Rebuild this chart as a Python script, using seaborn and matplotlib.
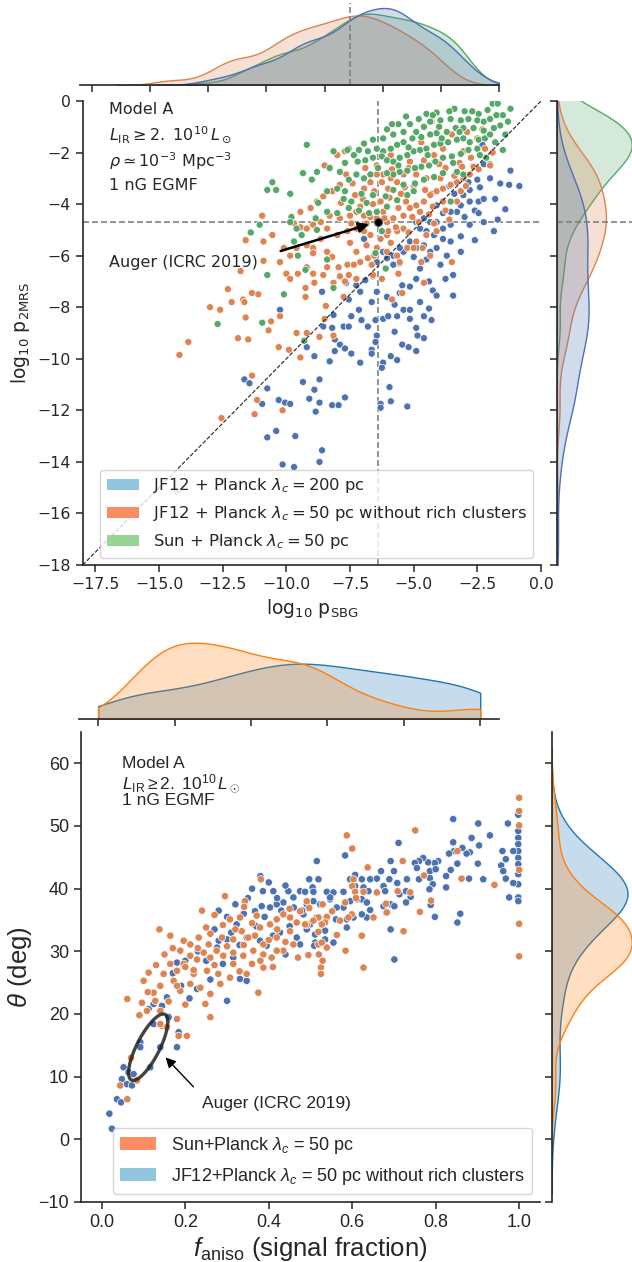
import numpy as np
import pandas as pd
import matplotlib
matplotlib.use("Agg")
import matplotlib.pyplot as plt
from matplotlib.patches import Patch
from matplotlib.font_manager import FontProperties
import seaborn as sns

# ---------------- DATA ----------------
# Top panel: log10 p_SBG (x) vs log10 p_2MRS (y)
top_jf12_200 = [
    (-2.3,-1.7),(-2.25,-2.45),(-2.0,-2.45),(-1.25,-3.25),(-2.85,-3.15),(-2.5,-3.05),(-2.4,-3.35),(-2.8,-3.45),
    (-3.05,-3.65),(-3.15,-4.05),(-2.8,-3.9),(-2.45,-3.9),(-2.25,-3.8),(-1.8,-3.8),(-2.6,-4.25),(-2.45,-4.35),
    (-3.3,-4.3),(-3.55,-4.3),(-3.85,-4.35),(-4.1,-4.05),(-3.55,-4.8),(-3.85,-4.95),(-4.1,-4.7),(-4.35,-4.7),
    (-4.6,-4.55),(-4.9,-4.7),(-4.75,-4.95),(-4.5,-5.05),(-4.2,-5.2),(-3.85,-5.35),(-3.55,-5.45),(-3.15,-5.25),
    (-2.8,-4.8),(-2.25,-4.7),(-1.85,-5.05),(-2.6,-5.4),(-3.15,-5.85),(-3.7,-6.0),(-4.1,-5.7),(-4.35,-5.85),
    (-4.6,-5.6),(-4.9,-5.7),(-5.15,-5.45),(-5.4,-5.85),(-5.55,-5.7),(-5.8,-6.0),(-6.05,-6.1),(-6.2,-5.85),
    (-6.45,-6.25),(-6.95,-5.35),(-3.95,-6.35),(-4.5,-6.15),(-4.75,-6.5),
    (-5.0,-6.05),(-5.55,-6.3),(-5.8,-6.35),(-6.6,-6.8),(-6.9,-6.95),
    (-7.25,-7.15),(-7.65,-7.05),(-7.1,-7.4),(-6.65,-7.8),(-6.45,-7.4),(-6.05,-7.6),(-5.75,-7.9),(-5.55,-7.45),
    (-5.45,-7.15),(-5.15,-7.2),(-4.9,-6.9),(-4.4,-7.0),(-4.25,-7.35),(-4.1,-7.55),(-4.75,-7.8),(-4.4,-8.05),
    (-3.45,-6.75),(-3.45,-7.55),(-3.75,-6.9),(-8.6,-7.4),(-7.55,-7.7),(-7.15,-8.1),(-7.45,-8.35),(-7.05,-8.5),
    (-6.5,-8.5),(-6.2,-8.45),(-6.0,-8.35),(-5.65,-8.35),(-5.4,-8.1),(-5.15,-8.1),(-5.15,-8.45),(-4.6,-8.35),
    (-4.3,-8.5),(-8.15,-8.3),(-8.55,-8.75),(-8.2,-8.8),(-7.75,-8.75),(-7.55,-8.75),(-6.8,-8.75),(-6.45,-9.1),
    (-6.5,-9.35),(-5.75,-8.95),(-4.9,-8.8),(-4.85,-9.1),(-4.6,-9.2),(-8.1,-9.25),(-7.9,-9.45),(-7.7,-9.6),
    (-8.1,-9.7),(-7.45,-9.8),(-7.1,-10.15),(-6.65,-9.65),(-6.65,-9.8),(-6.2,-10.15),(-6.25,-10.35),(-5.9,-9.9),
    (-5.65,-10.05),(-5.45,-9.45),(-5.2,-9.55),(-4.9,-9.7),(-8.9,-9.9),(-9.2,-9.55),(-10.25,-8.1),(-8.3,-10.1),
    (-11.65,-10.8),(-11.45,-10.95),(-10.75,-11.15),(-10.95,-11.75),(-10.3,-11.6),(-10.05,-11.7),(-9.85,-11.75),
    (-9.35,-10.9),(-9.1,-11.55),(-8.9,-11.2),(-8.7,-10.8),(-8.7,-11.7),(-8.85,-12.05),(-8.2,-11.8),(-7.95,-11.8),
    (-7.7,-11.5),(-6.3,-11.75),(-6.3,-11.9),(-5.95,-11.1),(-5.9,-11.65),(-5.25,-11.85),(-10.75,-13.05),
    (-10.4,-12.8),(-9.65,-13.0),(-8.6,-13.55),(-10.15,-14.1),(-9.7,-14.2),(-8.7,-14.0),(-12.6,-17.05),
    (-12.1,-17.0),(-0.85,-3.3),(-1.2,-2.7),(-1.6,-3.2),(-1.4,-4.2),(-1.7,-4.6),(-2.0,-3.0),(-3.4,-3.6),
    (-3.0,-4.5),(-4.3,-3.6),(-3.6,-3.3),
]
top_jf12_50 = [
    (-4.3,-0.8),(-2.5,-1.45),(-2.2,-1.85),(-2.8,-2.85),(-3.05,-1.95),(-3.45,-2.4),(-3.85,-1.85),(-4.2,-2.1),
    (-4.9,-2.85),(-5.15,-2.35),(-5.4,-2.85),(-5.65,-3.15),(-5.9,-3.0),(-6.2,-2.85),(-6.45,-2.85),(-6.45,-2.5),
    (-6.7,-3.15),(-6.95,-3.4),(-7.3,-3.65),(-7.65,-2.85),(-7.7,-1.95),(-7.9,-3.25),(-8.2,-3.5),(-8.55,-3.7),
    (-8.8,-3.9),(-9.05,-4.15),(-9.45,-4.3),(-9.7,-4.75),(-9.45,-4.9),(-9.2,-4.95),(-8.95,-4.8),(-8.65,-4.7),
    (-8.3,-4.45),(-7.9,-4.55),(-7.5,-4.45),(-7.25,-4.3),(-6.95,-4.45),(-6.7,-4.5),(-6.45,-4.55),(-6.05,-4.7),
    (-5.8,-4.55),(-5.4,-4.45),(-5.15,-4.15),(-4.9,-4.05),(-4.6,-3.9),(-4.35,-3.65),(-4.1,-3.5),(-3.85,-3.4),
    (-3.55,-3.25),(-3.3,-3.15),(-3.05,-3.0),(-2.65,-2.55),(-3.15,-3.5),(-3.85,-3.9),(-5.4,-4.95),(-5.65,-5.05),
    (-6.05,-5.2),(-6.3,-5.35),(-6.7,-5.2),(-6.95,-5.05),(-7.25,-4.95),(-7.6,-5.05),(-8.0,-5.2),(-8.4,-4.95),
    (-8.65,-5.35),(-8.95,-5.7),(-9.2,-5.6),(-9.6,-5.7),(-9.85,-6.0),(-10.1,-5.7),(-10.25,-6.25),
    (-8.4,-5.85),(-7.25,-5.85),(-6.85,-5.6),(-6.45,-5.7),(-6.05,-5.85),(-5.65,-6.0),
    (-5.25,-5.7),(-4.9,-5.45),(-4.5,-5.2),(-4.1,-5.05),(-4.35,-6.0),(-5.55,-6.25),(-10.95,-4.45),
    (-11.6,-5.4),(-10.9,-5.45),(-8.95,-5.9),(-8.2,-6.05),(-9.2,-6.45),(-8.95,-6.7),(-10.0,-6.7),(-9.55,-6.7),
    (-9.85,-6.9),(-8.4,-6.45),(-7.95,-6.45),(-7.6,-6.35),(-7.35,-6.35),(-7.1,-6.25),(-6.65,-6.35),(-8.55,-6.75),
    (-8.9,-7.05),(-8.15,-7.05),(-7.9,-6.8),(-7.7,-7.0),(-7.55,-6.75),(-7.25,-6.9),(-9.25,-7.25),(-9.25,-7.6),
    (-11.35,-7.45),(-11.1,-7.5),(-11.7,-7.7),(-11.65,-7.8),(-12.15,-7.8),(-12.6,-8.1),(-11.6,-8.4),(-10.6,-8.55),
    (-10.7,-8.9),(-10.25,-8.35),(-8.45,-7.95),(-8.5,-8.45),(-9.6,-9.0),(-9.2,-9.0),(-8.7,-9.15),(-8.15,-9.1),
    (-11.9,-9.2),(-11.5,-9.25),(-13.85,-9.35),(-14.2,-9.85),(-10.3,-9.55),(-9.9,-9.65),(-9.45,-9.95),(-7.75,-7.6),
    (-5.85,-7.7),(-5.6,-6.7),(-5.45,-7.45),(-4.6,-7.05),(-4.7,-6.25),(-3.5,-6.25),(-11.35,-10.65),(-11.15,-11.6),
    (-11.25,-12.15),(-12.55,-12.3),(-10.15,-12.0),(-6.6,-6.75),(-6.25,-6.9),(-14.3,-15.15),
    (-3.5,-1.3),(-2.9,-1.2),(-2.3,-1.1),(-4.7,-1.6),(-5.9,-2.1),(-2.0,-2.5),(-1.9,-2.0),(-3.2,-2.4),(-4.5,-3.0),
    (-5.0,-3.3),(-5.5,-3.6),(-6.0,-3.4),(-6.3,-3.9),(-6.6,-4.0),(-7.0,-3.8),(-7.4,-3.2),(-8.0,-2.1),(-8.5,-2.5),
    (-6.2,-4.3),(-5.7,-4.9),(-4.8,-4.7),(-4.4,-4.4),(-3.6,-4.6),(-5.0,-5.7),(-6.8,-6.1),(-7.5,-5.5),
    (-10.55,-5.2),(-10.9,-6.2),(-11.8,-6.6),(-12.3,-7.3),(-13.0,-8.0),
    (-6.9,-2.6),(-6.55,-3.5),(-6.25,-3.15),(-5.95,-3.75),(-5.6,-4.15),(-5.3,-3.9),(-5.05,-4.5),(-4.75,-4.3),
    (-4.55,-3.45),(-4.25,-4.1),(-3.95,-3.0),(-3.75,-2.6),(-3.4,-2.9),(-3.1,-2.55),(-2.75,-2.2),(-2.45,-2.65),
    (-5.85,-2.65),(-5.35,-3.35),(-6.15,-4.55),(-6.85,-4.75),(-7.1,-4.1),(-7.45,-4.75),(-7.85,-3.95),(-6.55,-6.0),
    (-5.9,-5.5),(-5.2,-5.1),(-4.65,-5.7),(-4.2,-4.75),(-3.75,-4.25),(-3.3,-3.9),(-2.95,-3.3),(-4.0,-2.45),
    (-4.6,-2.3),(-5.2,-2.6),(-6.0,-5.05),
]
top_sun_50 = [
    (-1.9,-0.1),(-1.7,-0.1),(-1.2,-0.3),(-1.5,-0.55),(-2.1,-0.35),(-2.45,-0.5),(-3.0,-0.4),(-3.4,-0.3),(-4.1,-0.45),
    (-4.5,-0.5),(-5.3,-0.6),(-5.6,-0.9),(-6.05,-1.1),(-6.2,-1.45),(-5.8,-1.3),(-5.4,-1.2),(-5.15,-0.9),(-4.9,-1.2),
    (-4.6,-1.0),(-4.35,-0.8),(-3.95,-0.75),(-3.55,-0.7),(-3.15,-0.75),(-2.85,-0.7),(-2.5,-0.75),(-2.25,-0.8),
    (-2.0,-0.7),(-1.75,-0.55),(-1.6,-0.95),(-1.85,-1.05),(-2.25,-1.15),(-2.65,-1.05),(-3.05,-1.05),(-3.35,-1.05),
    (-3.7,-1.2),(-4.1,-1.25),(-4.35,-1.3),(-4.7,-1.4),(-5.05,-1.45),(-5.4,-1.6),(-5.65,-1.7),(-5.9,-1.85),
    (-6.2,-1.95),(-6.45,-1.85),(-6.8,-1.95),(-6.95,-1.65),(-7.15,-1.9),(-7.55,-1.85),(-7.7,-2.4),(-7.35,-2.1),
    (-7.2,-2.35),(-6.9,-2.3),(-6.6,-2.2),(-6.25,-2.15),(-6.05,-2.3),(-5.8,-2.35),(-5.55,-2.2),(-5.25,-2.1),
    (-5.0,-1.95),(-4.75,-1.9),(-4.5,-1.85),(-4.2,-1.7),(-3.95,-1.65),(-3.65,-1.6),(-3.3,-1.5),(-3.05,-1.45),
    (-2.8,-1.6),(-2.45,-1.5),(-2.2,-1.45),(-2.5,-1.85),(-2.85,-1.9),(-3.15,-2.05),(-3.5,-2.15),(-3.85,-2.2),
    (-4.15,-2.35),(-4.4,-2.5),(-4.7,-2.55),(-4.95,-2.6),(-5.25,-2.7),(-5.55,-2.75),(-5.8,-2.85),(-6.05,-2.8),
    (-6.4,-2.6),(-6.7,-2.85),(-6.95,-3.0),(-7.25,-2.85),(-7.55,-3.05),(-7.9,-2.75),(-8.3,-2.6),(-8.8,-2.75),
    (-9.0,-3.05),(-9.35,-2.8),(-9.2,-1.7),(-8.15,-1.95),(-7.6,-1.9),(-10.55,-3.15),(-10.75,-3.45),(-10.4,-3.45),
    (-9.85,-3.6),(-8.4,-3.5),(-8.0,-3.4),(-7.7,-3.5),(-7.45,-3.9),(-7.05,-3.6),(-6.6,-3.65),(-6.85,-3.95),
    (-7.15,-4.25),(-7.55,-4.15),(-7.75,-3.8),(-8.0,-4.35),(-8.4,-4.3),(-8.75,-3.95),(-6.1,-3.7),(-5.8,-3.45),
    (-5.4,-3.25),(-4.95,-3.2),(-4.6,-3.05),(-4.2,-2.95),(-3.85,-2.8),(-3.3,-2.75),(-3.05,-2.85),(-3.55,-3.9),
    (-6.05,-4.1),(-5.65,-3.85),(-5.25,-3.65),(-5.0,-3.5),(-6.45,-4.3),(-6.75,-4.35),(-8.85,-4.55),(-9.8,-4.5),
    (-9.6,-4.95),(-9.85,-4.7),(-11.05,-4.8),(-11.4,-5.1),(-9.4,-5.2),(-9.7,-5.45),(-8.8,-5.0),(-6.25,-5.05),
    (-6.5,-5.9),(-10.75,-6.75),(-9.55,-6.0),(-8.4,-6.15),(-9.25,-6.55),(-10.1,-7.5),(-8.15,-7.25),(-12.7,-8.65),
    (-10.95,-8.6),(-9.3,-9.3),(-6.1,-6.5),
    (-1.4,-1.3),(-1.3,-0.8),(-2.0,-1.3),(-2.4,-2.1),(-3.6,-0.4),(-4.0,-1.0),(-4.8,-0.7),(-5.2,-1.8),(-3.2,-1.2),
    (-2.7,-0.4),(-1.5,-1.9),(-3.9,-1.45),(-4.45,-2.1),(-5.6,-2.5),(-3.45,-2.4),(-2.15,-2.2),(-1.8,-1.6),
    (-4.25,-0.55),(-5.85,-0.9),(-6.6,-1.5),
]
top_labels = [r"JF12 + Planck $\lambda_c = 200$ pc",
              r"JF12 + Planck $\lambda_c = 50$ pc without rich clusters",
              r"Sun + Planck $\lambda_c = 50$ pc"]
auger_top = (-6.4, -4.7)

# Bottom panel: f_aniso (x) vs theta in deg (y)
bot_sun = [
    (0.381,41.5),(0.295,38.8),(0.343,38.0),(0.341,37.1),(0.138,33.5),(0.26,32.8),(0.307,35.1),(0.331,35.4),
    (0.371,35.7),(0.379,33.8),(0.403,34.3),(0.419,35.1),(0.435,35.9),(0.451,35.4),(0.467,34.6),(0.451,33.2),
    (0.419,32.2),(0.387,31.1),(0.363,30.1),(0.339,29.3),(0.315,29.8),(0.291,29.3),(0.275,30.1),(0.26,29.0),
    (0.244,29.8),(0.228,28.7),(0.212,29.3),(0.196,28.0),(0.18,26.9),(0.164,28.0),(0.148,26.4),(0.14,24.5),
    (0.124,23.4),(0.112,26.6),(0.1,25.3),(0.128,22.1),(0.096,21.8),(0.061,22.4),(0.108,20.5),(0.14,20.5),
    (0.18,19.2),(0.144,18.1),(0.184,16.5),(0.204,16.5),(0.172,25.3),(0.188,23.7),(0.212,24.8),(0.236,24.2),
    (0.26,23.2),(0.248,21.6),(0.284,24.8),(0.307,25.8),(0.26,19.5),(0.22,26.4),(0.252,26.9),(0.279,26.4),
    (0.315,28.0),(0.347,26.4),(0.375,23.4),(0.387,27.4),(0.407,29.0),(0.435,30.1),(0.459,31.1),(0.419,30.1),
    (0.387,29.5),(0.156,17.9),(0.14,18.4),(0.084,9.4),(0.044,8.6),(0.061,6.4),(0.164,32.5),(0.196,31.7),
    (0.232,32.2),(0.256,31.1),(0.288,32.2),(0.315,31.9),(0.335,33.2),(0.351,32.2),(0.367,32.5),(0.212,31.1),
    (0.188,30.1),
    (1.0,54.5),(1.0,52.4),(1.0,50.1),(1.0,43.0),(1.0,34.4),(1.0,29.2),(0.941,40.6),(0.862,41.6),(0.852,46.0),
    (0.751,49.3),(0.789,38.1),(0.772,42.1),(0.762,36.3),(0.721,44.4),(0.723,33.2),(0.709,39.6),(0.739,39.4),
    (0.681,37.6),(0.683,36.2),(0.659,39.4),(0.637,43.4),(0.627,39.5),(0.587,48.5),(0.6,46.4),(0.603,41.5),
    (0.6,40.4),(0.607,39.5),(0.609,38.5),(0.583,37.8),(0.651,35.4),(0.623,32.5),(0.627,27.4),(0.584,30.1),
    (0.599,35.9),(0.591,35.4),(0.563,32.6),(0.571,34.9),(0.552,36.4),(0.539,35.5),(0.535,34.6),(0.529,37.5),
    (0.519,35.4),(0.507,34.9),(0.491,34.2),(0.497,36.9),(0.491,38.0),(0.475,36.4),(0.487,34.3),(0.519,33.1),
    (0.527,34.3),(0.539,30.6),(0.519,31.1),(0.527,31.4),(0.495,29.4),(0.52,29.5),(0.529,28.5),(0.525,27.4),
    (0.525,26.4),
    (0.17,30.5),(0.2,27.5),(0.23,30.5),(0.27,27.8),(0.3,30.8),(0.32,33.5),(0.34,31.0),(0.36,34.5),(0.38,28.5),
    (0.4,31.8),(0.42,33.5),(0.44,31.5),(0.25,33.8),(0.29,34.2),(0.22,27.0),(0.15,29.5),(0.13,27.8),(0.18,24.5),
    (0.11,23.5),(0.09,19.8),(0.07,13.0),(0.47,29.0),(0.45,36.8),(0.24,36.5),(0.27,35.8),(0.33,26.8),(0.36,28.0),
    (0.41,27.5),(0.2,21.5),(0.16,22.0),
]
bot_jf12 = [
    (0.386,39.6),(0.411,39.6),(0.447,39.6),(0.475,39.6),(0.547,38.3),(0.459,38.6),(0.435,37.8),(0.419,37.5),
    (0.403,37.0),(0.383,37.2),(0.367,36.4),(0.323,34.3),(0.347,32.2),(0.379,31.7),(0.395,30.9),(0.427,33.0),
    (0.467,32.2),(0.28,31.7),(0.3,31.9),(0.276,30.6),(0.315,29.0),(0.331,25.6),(0.347,25.3),(0.2,28.5),
    (0.18,28.2),(0.3,22.1),(0.228,24.0),(0.156,22.65),(0.144,21.3),(0.124,21.6),(0.112,20.8),(0.124,18.4),
    (0.092,15.5),(0.092,14.7),(0.14,14.7),(0.18,14.7),(0.184,17.1),(0.052,11.5),(0.064,10.7),(0.076,10.4),
    (0.048,9.6),(0.06,8.8),(0.072,8.6),(0.116,11.5),(0.036,6.4),(0.046,5.9),(0.018,4.1),(0.024,1.7),
    (0.842,51.1),(0.902,50.4),(0.973,50.4),(0.998,51.8),(0.998,49.2),(0.998,48.1),(0.998,47.1),(0.998,46.0),
    (0.998,44.9),(0.998,43.9),(0.998,42.3),(0.998,40.7),(0.998,38.6),(0.998,38.0),(0.986,46.0),(0.96,46.0),
    (0.968,44.7),(0.957,43.7),(0.962,42.8),(0.968,41.6),(0.986,40.9),(0.976,38.6),(0.93,48.5),(0.904,46.9),
    (0.886,48.1),(0.882,45.8),(0.874,45.6),(0.864,46.5),(0.842,47.4),(0.844,46.0),(0.832,45.6),(0.852,44.0),
    (0.901,44.0),(0.836,43.0),(0.825,42.0),(0.88,41.6),(0.914,41.5),(0.825,40.2),(0.859,36.0),(0.852,34.6),
    (0.798,35.5),(0.806,44.4),(0.798,44.1),(0.782,44.2),(0.77,44.9),(0.76,44.4),(0.75,44.1),(0.755,43.3),
    (0.786,42.8),(0.8,43.1),(0.786,41.7),(0.793,40.7),(0.785,39.9),(0.788,37.4),(0.76,41.5),(0.731,41.5),
    (0.711,47.3),(0.692,44.4),(0.7,42.8),(0.708,40.9),(0.729,39.6),(0.74,38.7),(0.729,37.8),(0.713,39.1),
    (0.689,41.5),(0.692,37.5),(0.675,37.2),(0.701,37.2),(0.681,36.2),(0.692,33.5),(0.701,28.7),(0.669,42.8),
    (0.643,41.5),(0.659,41.6),(0.675,40.4),(0.679,39.6),(0.643,36.6),(0.635,35.4),(0.623,41.5),(0.607,42.2),
    (0.603,41.2),(0.595,41.5),(0.583,45.3),(0.515,44.4),(0.497,41.5),(0.519,41.5),(0.505,40.2),(0.487,39.5),
    (0.507,39.5),(0.539,39.5),(0.555,39.4),(0.579,39.5),(0.607,40.4),(0.627,40.2),(0.639,39.6),(0.623,38.3),
    (0.635,37.8),(0.611,38.3),(0.595,38.0),(0.579,37.0),(0.563,37.0),(0.547,38.6),(0.523,37.5),(0.507,38.0),
    (0.491,37.5),(0.483,35.9),(0.499,34.3),(0.515,35.4),(0.539,35.4),(0.561,35.1),(0.587,35.1),(0.603,35.4),
    (0.623,35.9),(0.535,33.3),(0.511,32.7),(0.491,33.5),(0.587,33.8),(0.535,31.9),(0.555,31.4),(0.511,31.4),
    (0.509,30.9),(0.475,31.1),
    (0.22,27.0),(0.25,28.5),(0.27,33.5),(0.3,35.5),(0.32,37.5),(0.35,38.5),(0.37,34.0),(0.39,35.5),(0.41,32.5),
    (0.43,36.5),(0.45,34.0),(0.46,37.0),(0.44,40.5),(0.4,41.0),(0.36,40.0),(0.33,31.0),(0.29,28.0),(0.26,25.5),
    (0.23,30.0),(0.19,24.5),(0.17,26.5),(0.21,22.5),(0.34,36.0),(0.42,38.5),(0.48,36.5),(0.31,33.0),(0.28,36.5),
    (0.38,42.0),(0.44,29.5),(0.16,19.5),
]
bot_labels = [r"Sun+Planck $\lambda_c$ = 50 pc",
              r"JF12+Planck $\lambda_c$ = 50 pc without rich clusters"]
# Auger (ICRC 2019) contour: centre, half-extents and phase of the ellipse
auger_f, auger_theta = 0.111, 14.7
auger_df, auger_dtheta, auger_phase_deg = 0.047, 5.3, 40.0

# ---------------- STYLE ----------------
sns.set_theme(style="ticks")
plt.rcParams["font.family"] = ["DejaVu Sans"]
plt.rcParams["mathtext.fontset"] = "custom"
plt.rcParams["mathtext.rm"] = "Liberation Sans"
plt.rcParams["mathtext.it"] = "Liberation Sans:italic"
plt.rcParams["mathtext.bf"] = "Liberation Sans:bold"
TXT = "#262626"

DEEP_B, DEEP_O, DEEP_G = "#4C72B0", "#DD8452", "#55A868"
TAB_B, TAB_O = "#1f77b4", "#ff7f0e"

W, H = 632, 1262
fig = plt.figure(figsize=(W / 100, H / 100), dpi=100)

def box(x0, x1, ytop, ybot):
    return [x0 / W, (H - ybot) / H, (x1 - x0) / W, (ybot - ytop) / H]

ax1 = fig.add_axes(box(82.7, 541.0, 101.0, 565.0))
ax1x = fig.add_axes(box(80.0, 499.3, 3.0, 85.0))
ax1y = fig.add_axes(box(556.7, 636.7, 101.0, 565.0))
ax2 = fig.add_axes(box(81.0, 540.0, 732.0, 1202.0))
ax2x = fig.add_axes(box(79.0, 499.3, 629.0, 719.0))
ax2y = fig.add_axes(box(551.7, 636.7, 732.0, 1202.0))

def frame(points, names):
    rows = []
    for pts, name in zip(points, names):
        for x, y in pts:
            rows.append((x, y, name))
    return pd.DataFrame(rows, columns=["x", "y", "series"])

def dens_peak(ax, along):
    m = 0.0
    for c in ax.collections:
        for p in c.get_paths():
            v = p.vertices
            if len(v):
                m = max(m, v[:, 1].max() if along == "y" else v[:, 0].max())
    return m

def marg_style(ax, side):
    for s in ["top", "right", "left", "bottom"]:
        ax.spines[s].set_visible(False)
    ax.spines[side].set_visible(True)
    ax.spines[side].set_color(TXT)
    ax.spines[side].set_linewidth(1.2)
    ax.set_xlabel("")
    ax.set_ylabel("")
    if side == "bottom":
        ax.tick_params(axis="x", which="both", length=5, width=1.1, color=TXT, labelbottom=False)
        ax.tick_params(axis="y", left=False, labelleft=False)
    else:
        ax.tick_params(axis="y", which="both", length=5, width=1.1, color=TXT, labelleft=False)
        ax.tick_params(axis="x", bottom=False, labelbottom=False)
    ax.set_facecolor("none")

# ---------------- TOP PANEL ----------------
names1 = ["jf200", "jf50", "sun"]
pal1 = {"jf200": DEEP_B, "jf50": DEEP_O, "sun": DEEP_G}
df1 = frame([top_jf12_200, top_jf12_50, top_sun_50], names1)

sns.scatterplot(data=df1, x="x", y="y", hue="series", hue_order=names1, palette=pal1,
                s=26, edgecolor="white", linewidth=0.5, legend=False, ax=ax1, zorder=3)
ax1.plot([-18, 0], [-18, 0], ls="--", lw=0.8, color="#222222", zorder=4)
dash = dict(color="#808080", ls=(0, (3.6, 1.8)), lw=1.2)
ax1.axvline(auger_top[0], zorder=2, **dash)
ax1.axhline(auger_top[1], zorder=2, **dash)
ax1.scatter([auger_top[0]], [auger_top[1]], s=34, color="black", edgecolor="#666666",
            linewidth=0.8, zorder=6)
ax1.annotate("", xy=(-6.65, -4.75), xytext=(-10.33, -5.85),
             arrowprops=dict(arrowstyle="-|>", color="black", lw=1.8, mutation_scale=15), zorder=6)
ax1.text(-16.95, -6.27, "Auger (ICRC 2019)", ha="left", va="center", fontsize=11.5, color=TXT)
ax1.set_xlim(-18, 0)
ax1.set_ylim(-18, 0)
ax1.set_xticks(np.arange(-17.5, 0.01, 2.5))
ax1.set_yticks(np.arange(-18, 0.01, 2))
ax1.set_xlabel(r"log$_{10}$ p$_{\rm SBG}$", fontsize=13.5, color=TXT, math_fontfamily="dejavusans")
ax1.set_ylabel(r"log$_{10}$ p$_{\rm 2MRS}$", fontsize=13.5, color=TXT, math_fontfamily="dejavusans")
ax1.tick_params(labelsize=11.3, length=5, width=1.1, color=TXT, labelcolor=TXT)
sns.despine(ax=ax1)
for s in ["left", "bottom"]:
    ax1.spines[s].set_color(TXT)
    ax1.spines[s].set_linewidth(1.2)

lines_top = ["Model A", r"$L_{\rm IR} \geq 2.\ 10^{10}\,L_\odot$",
             r"$\rho \simeq 10^{-3}$ Mpc$^{-3}$", "1 nG EGMF"]
for txt, yy in zip(lines_top, [0.982, 0.927, 0.871, 0.817]):
    ax1.text(0.058, yy, txt, transform=ax1.transAxes, ha="left", va="center",
             fontsize=11.5, color=TXT, math_fontfamily="dejavusans")

leg_fp = FontProperties(family="DejaVu Sans", size=11.8, math_fontfamily="dejavusans")
h1 = [Patch(facecolor=c, edgecolor="none", label=l)
      for c, l in zip(["#92c5de", "#fc8d62", "#98d594"], top_labels)]
lg1 = ax1.legend(handles=h1, loc="lower left", bbox_to_anchor=(0.038, 0.015), borderaxespad=0,
                 prop=leg_fp, labelspacing=0.55, handlelength=2.0, handleheight=0.7, framealpha=0.8)
for t in lg1.get_texts():
    t.set_color(TXT)

sns.kdeplot(data=df1, x="x", hue="series", hue_order=names1, palette=pal1, fill=True,
            common_norm=False, bw_adjust=0.75, alpha=0.25, linewidth=1.0, legend=False, ax=ax1x)
ax1x.set_xlim(-18, 0)
ax1x.set_xticks(np.arange(-17.5, 0.01, 2.5))
ax1x.set_ylim(0, dens_peak(ax1x, "y") * 82 / 77)
ax1x.axvline(auger_top[0], **dash)
marg_style(ax1x, "bottom")

sns.kdeplot(data=df1, y="y", hue="series", hue_order=names1, palette=pal1, fill=True,
            common_norm=False, bw_adjust=1.0, alpha=0.25, linewidth=1.0, legend=False, ax=ax1y)
ax1y.set_ylim(-18, 0)
ax1y.set_yticks(np.arange(-18, 0.01, 2))
ax1y.set_xlim(0, dens_peak(ax1y, "x") * 80 / 75)
ax1y.axhline(auger_top[1], **dash)
marg_style(ax1y, "left")

# ---------------- BOTTOM PANEL ----------------
ARIAL = "Liberation Sans"
names2 = ["jf12", "sun"]
df2 = frame([bot_jf12, bot_sun], names2)
sns.scatterplot(data=df2, x="x", y="y", hue="series", hue_order=names2,
                palette={"jf12": DEEP_B, "sun": DEEP_O}, s=28, edgecolor="white",
                linewidth=0.5, legend=False, ax=ax2, zorder=3)

t = np.linspace(0, 2 * np.pi, 200)
ph = np.deg2rad(auger_phase_deg)
ax2.plot(auger_f + auger_df * np.cos(t), auger_theta + auger_dtheta * np.cos(t - ph),
         color="#222222", lw=2.4, alpha=0.85, zorder=5)
ax2.annotate("", xy=(0.148, 13.4), xytext=(0.224, 8.06),
             arrowprops=dict(arrowstyle="-|>", color="black", lw=1.0, mutation_scale=15), zorder=6)
ax2.text(0.2396, 5.67, "Auger (ICRC 2019)", ha="left", va="center", fontsize=12.5,
         color=TXT, fontfamily=ARIAL)
ax2.set_xlim(-0.05, 1.05)
ax2.set_ylim(-10, 65)
ax2.set_xticks(np.arange(0, 1.01, 0.2))
ax2.set_yticks(np.arange(-10, 61, 10))
ax2.set_xlabel(r"$f_{\rm aniso}$ (signal fraction)", fontsize=18.5, color=TXT, fontfamily=ARIAL,
               labelpad=3)
ax2.set_ylabel(r"$\theta$ (deg)", fontsize=18.5, color=TXT, fontfamily=ARIAL, labelpad=3)
ax2.tick_params(labelsize=13, length=5, width=1.1, color=TXT, labelcolor=TXT)
for lbl in ax2.get_xticklabels() + ax2.get_yticklabels():
    lbl.set_fontfamily(ARIAL)
sns.despine(ax=ax2)
for s in ["left", "bottom"]:
    ax2.spines[s].set_color(TXT)
    ax2.spines[s].set_linewidth(1.2)

lines_bot = ["Model A", r"$L_{\rm IR} \geq 2.\ 10^{10}\,L_\odot$", "1 nG EGMF"]
for txt, yy in zip(lines_bot, [0.934, 0.891, 0.855]):
    ax2.text(0.089, yy, txt, transform=ax2.transAxes, ha="left", va="center",
             fontsize=12.5, color=TXT, fontfamily=ARIAL)

h2 = [Patch(facecolor=c, edgecolor="none", label=l)
      for c, l in zip(["#fc8d62", "#92c5de"], bot_labels)]
lg2 = ax2.legend(handles=h2, loc="lower left", bbox_to_anchor=(0.07, 0.017), borderaxespad=0,
                 prop=FontProperties(family=ARIAL, size=13), labelspacing=0.55,
                 handlelength=2.0, handleheight=0.7, framealpha=0.8)
for tt in lg2.get_texts():
    tt.set_color(TXT)

df2_j = df2[df2["series"] == "jf12"]
df2_s = df2[df2["series"] == "sun"]
sns.kdeplot(data=df2_j, x="x", color=TAB_B, fill=True, clip=(0, 1), bw_adjust=1.0,
            alpha=0.25, linewidth=1.0, ax=ax2x)
sns.kdeplot(data=df2_s, x="x", color=TAB_O, fill=True, clip=(0, 1), bw_adjust=0.9,
            alpha=0.25, linewidth=1.0, ax=ax2x)
ax2x.set_xlim(-0.05, 1.05)
ax2x.set_xticks(np.arange(0, 1.01, 0.2))
ax2x.set_ylim(0, dens_peak(ax2x, "y") * 90 / 76.3)
marg_style(ax2x, "bottom")

sns.kdeplot(data=df2_j, y="y", color=TAB_B, fill=True, alpha=0.25, linewidth=1.0, ax=ax2y)
sns.kdeplot(data=df2_s, y="y", color=TAB_O, fill=True, alpha=0.25, linewidth=1.0, ax=ax2y)
ax2y.set_ylim(-10, 65)
ax2y.set_yticks(np.arange(-10, 61, 10))
ax2y.set_xlim(0, dens_peak(ax2y, "x") * 85 / 80)
marg_style(ax2y, "left")

fig.savefig("out.png", dpi=100)
